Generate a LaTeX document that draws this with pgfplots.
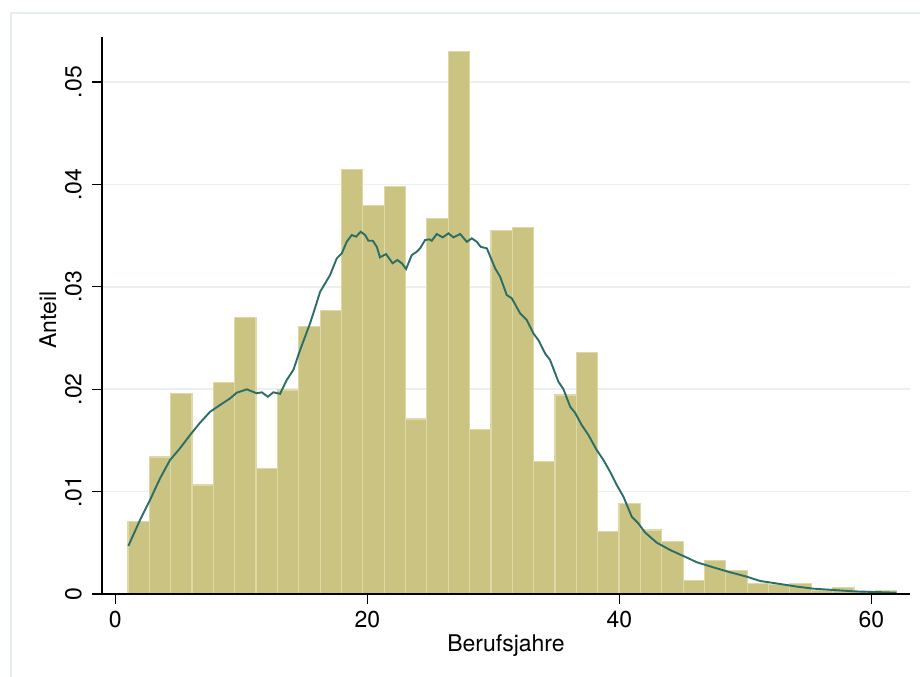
\documentclass[border=0pt]{standalone}
\usepackage{fontspec}
\setmainfont{TeX Gyre Heros}
\usepackage{pgfplots}
\pgfplotsset{compat=1.18}
\definecolor{barfill}{HTML}{CBC381}
\definecolor{baredge}{HTML}{DDD8A6}
\definecolor{kdens}{HTML}{2A6E68}
\definecolor{gridc}{HTML}{EAF0F2}
\definecolor{framec}{HTML}{E6EEEF}

\begin{document}
\begin{tikzpicture}
\path[use as bounding box] (0,0) rectangle (460bp,338.5bp);
\draw[framec, line width=0.6bp] (5.5bp,0) -- (5.5bp,332bp) -- (460bp,332bp);
\begin{axis}[
  at={(51bp,41.5bp)}, anchor=south west,
  scale only axis, width=404bp, height=278.5bp,
  xmin=-1.06, xmax=63.06, ymin=0, ymax=0.0544,
  axis x line=bottom, axis y line=left,
  axis line style={black, line width=0.6bp, -},
  xtick={0,20,40,60},
  ytick={0,0.01,0.02,0.03,0.04,0.05},
  yticklabels={0,.01,.02,.03,.04,.05},
  scaled y ticks=false,
  tick align=outside, major tick length=5bp,
  tick style={black, line width=0.6bp},
  ymajorgrids, grid style={gridc, line width=0.8bp},
  font=\fontsize{11.5bp}{13bp}\selectfont,
  /pgf/number format/assume math mode=true,
  yticklabel style={rotate=90, anchor=south, inner sep=0pt},
  yticklabel shift=5bp,
  xticklabel style={anchor=base, inner sep=0pt},
  xticklabel shift=11.5bp,
  xlabel={Berufsjahre}, ylabel={Anteil},
  xlabel style={at={(axis description cs:0.5,-0.104)}, anchor=base, inner sep=0pt},
  ylabel style={at={(axis description cs:-0.0668,0.492)}, anchor=center, inner sep=0pt},
]
% histogram, 36 bins from 1 to 62
\addplot[ybar interval, fill=barfill, draw=baredge, line width=0.6bp] coordinates {
(1.0000,0.0071) (2.6944,0.01338) (4.3889,0.0196) (6.0833,0.01064)
(7.7778,0.02064) (9.4722,0.0270) (11.1667,0.01224) (12.8611,0.01992)
(14.5556,0.0261) (16.2500,0.02767) (17.9444,0.04147) (19.6389,0.03792)
(21.3333,0.03978) (23.0278,0.0171) (24.7222,0.03667) (26.4167,0.0530)
(28.1111,0.0161) (29.8056,0.03548) (31.5000,0.03577) (33.1944,0.01292)
(34.8889,0.01943) (36.5833,0.02357) (38.2778,0.00612) (39.9722,0.00884)
(41.6667,0.00625) (43.3611,0.0051) (45.0556,0.0013) (46.7500,0.0033)
(48.4444,0.0023) (50.1389,0.0010) (51.8333,0.00094) (53.5278,0.00104)
(55.2222,0.00032) (56.9167,0.0006) (58.6111,0.00022) (60.3056,0.0003)
(62.0000,0.0003)
};
% kernel density
\addplot[kdens, line width=0.95bp, mark=none] coordinates {
(1.03,0.00469) (1.96,0.00723) (2.75,0.00918) (3.55,0.0113) (4.34,0.01309)
(5.13,0.01423) (5.93,0.01553) (6.72,0.01673) (7.52,0.0178) (8.31,0.01846)
(9.10,0.0191) (9.63,0.01966) (10.43,0.01999) (11.22,0.0196) (11.62,0.0197)
(12.10,0.01927) (12.54,0.0197) (13.07,0.01955) (13.6,0.0209) (14.13,0.0219)
(14.66,0.02383) (15.45,0.02643) (15.71,0.02741) (16.25,0.02952) (17.04,0.03115)
(17.57,0.03278) (17.97,0.03327) (18.36,0.0344) (18.76,0.03506) (19.1,0.0349)
(19.47,0.03538) (19.82,0.03506) (20.08,0.0345) (20.43,0.0345) (20.75,0.0339)
(21.0,0.03288) (21.48,0.0332) (22.0,0.0323) (22.38,0.03262) (22.73,0.0323)
(23.07,0.03174) (23.52,0.0331) (23.92,0.03343) (24.18,0.03376) (24.58,0.03457)
(24.92,0.03464) (25.11,0.0345) (25.5,0.03516) (25.98,0.03483) (26.43,0.03522)
(26.83,0.03483) (27.36,0.03516) (27.89,0.0344) (28.29,0.03473) (28.68,0.0344)
(29.0,0.0339) (29.48,0.03376) (29.87,0.0326) (30.14,0.0318) (30.53,0.031)
(31.06,0.0292) (31.46,0.02888) (32.12,0.02741) (32.65,0.02676) (33.17,0.02546)
(33.57,0.0248) (34.1,0.0235) (34.5,0.02285) (35.16,0.02073) (35.56,0.0200)
(36.09,0.0183) (36.48,0.0177) (37.01,0.0165) (37.54,0.01553) (38.2,0.01406)
(38.73,0.01309) (39.26,0.01194) (39.79,0.01064) (40.32,0.0095) (40.98,0.00755)
(41.5,0.0069) (42.04,0.0060) (42.97,0.00501) (44.02,0.0043) (45.08,0.00371)
(46.14,0.0031) (47.46,0.0026) (48.79,0.00212) (50.11,0.00169) (51.17,0.00127)
(52.75,0.00098) (54.08,0.00072) (55.4,0.00052) (56.98,0.00039) (58.57,0.00026)
(60.16,0.0002) (62.0,0.00013)
};
\draw[black, line width=0.6bp] (axis cs:-1.06,0) -- (axis cs:63.06,0);
\end{axis}
\end{tikzpicture}
\end{document}
